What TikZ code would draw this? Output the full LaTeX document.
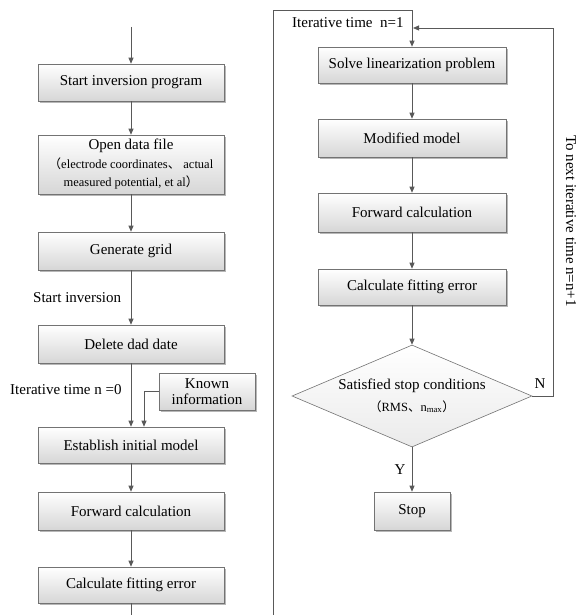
\documentclass[tikz,border=0pt]{standalone}
\usepackage{fontspec}
\setmainfont{Liberation Serif}
\newfontfamily\cjk{Noto Sans CJK SC}
\usetikzlibrary{arrows.meta,shapes.geometric,shadows}
\newcommand\myfs{\fontsize{15}{18.5}\selectfont}
\newcommand\mysmall{\fontsize{12.5}{18.5}\selectfont}
\begin{document}
\begin{tikzpicture}[x=1pt,y=-1pt,
  line/.style={draw=black!65, line width=0.8pt},
  arr/.style={line, -{Triangle[length=6pt,width=5pt]}},
  box/.style={draw=black!55, line width=0.6pt, top color=white, bottom color=black!16,
    drop shadow={fill=black!40, shadow xshift=2pt, shadow yshift=-2pt, opacity=0.7},
    inner sep=1pt, align=center, font=\myfs},
  lbox/.style={box, minimum width=186pt},
  rbox/.style={box, minimum width=188pt},
  diam/.style={shape=diamond, draw=black!55, line width=0.6pt, top color=white, bottom color=black!8,
    aspect=2.35, minimum width=240pt, minimum height=102pt, inner sep=0pt, align=center, font=\myfs},
  lbl/.style={font=\myfs, inner sep=0pt}
]
\useasboundingbox (0,0) rectangle (577,615);

% left column
\coordinate (top) at (131,27);
\node[lbox, minimum height=37pt] (start) at (131,82.5) {Start inversion program};
\node[lbox, minimum height=59pt] (open) at (131,164.5) {Open data file\\{\mysmall\cjk（}{\mysmall electrode coordinates}{\mysmall\cjk 、}{\mysmall\ actual}\\{\mysmall measured potential, et al}{\mysmall\cjk ）}};
\node[lbox, minimum height=38pt] (grid) at (131,251) {Generate grid};
\node[lbox, minimum height=38pt] (del) at (131,344) {Delete dad date};
\node[box, minimum width=96pt, minimum height=37pt] (known) at (207,391.5) {Known\\[-2pt]information};
\node[lbox, minimum height=36pt] (est) at (131,445) {Establish initial model};
\node[lbox, minimum height=38pt] (fwd1) at (131,511) {Forward calculation};
\node[lbox, minimum height=36pt] (calc1) at (131,585) {Calculate fitting error};
\coordinate (bl) at (131,616);
\coordinate (kx) at (144,0);

\node[lbl, anchor=west] (si) at (33,298) {Start inversion};
\node[lbl, anchor=west] (it0) at (10,390) {Iterative time n =0};

\draw[arr] (top) -- (start);
\draw[arr] (start) -- (open);
\draw[arr] (open) -- (grid);
\draw[arr] (grid) -- (del);
\draw[arr] (del) -- (est);
\draw[arr] (known.west) -| (kx |- est.north);
\draw[arr] (est) -- (fwd1);
\draw[arr] (fwd1) -- (calc1);
\draw[line] (calc1) -- (bl);

% right column
\node[rbox, minimum height=36pt] (solve) at (412,65) {Solve linearization problem};
\node[rbox, minimum height=38pt] (mod) at (412,138) {Modified model};
\node[rbox, minimum height=39pt] (fwd2) at (412,212.5) {Forward calculation};
\node[rbox, minimum height=36pt] (calc2) at (412,287) {Calculate fitting error};
\node[diam] (dec) at (412,396) {Satisfied stop conditions\\[3pt]{\mysmall\cjk（}{\mysmall RMS}{\mysmall\cjk 、}{\mysmall n\textsubscript{max}}{\mysmall\cjk ）}};
\node[box, minimum width=76pt, minimum height=38pt] (stop) at (412,511) {Stop};

\coordinate (fr1) at (273,616);
\coordinate (fr2) at (273,10);
\coordinate (fr3) at (412,10);
\coordinate (fbR) at (553,28);
\coordinate (fbL) at (413,28);

\node[lbl, anchor=west] (it1) at (292,23) {Iterative time\ \ n=1};
\node[lbl] (nl) at (540,384) {N};
\node[lbl] (yl) at (400,470) {Y};
\node[lbl, rotate=-90] (nxt) at (571,221) {To next iterative time n=n+1};

\draw[arr] (fr1) -- (fr2) -- (fr3) -- (solve);
\draw[arr] (solve) -- (mod);
\draw[arr] (mod) -- (fwd2);
\draw[arr] (fwd2) -- (calc2);
\draw[arr] (calc2) -- (dec);
\draw[arr] (dec) -- (stop);
\draw[arr] (dec.east) -| (fbR) -- (fbL);
\end{tikzpicture}
\end{document}
